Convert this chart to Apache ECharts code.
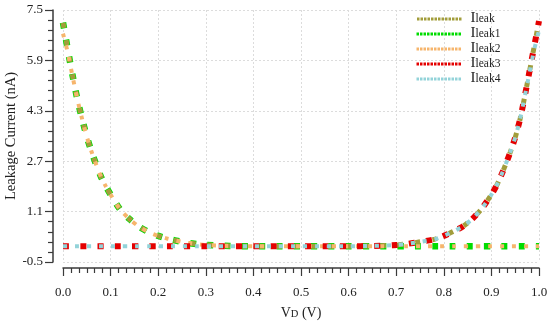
<!DOCTYPE html>
<html>
<head>
<meta charset="utf-8">
<script src="https://cdn.jsdelivr.net/npm/echarts@6/dist/echarts.min.js"></script>
<style>html,body{margin:0;padding:0;background:#fff;}#c{width:550px;height:322px;}</style>
</head>
<body>
<div id="c"></div>
<script>
// ---- data ----
var vd = [0, 0.01, 0.02, 0.03, 0.04, 0.05, 0.06, 0.07, 0.08, 0.09, 0.10, 0.12, 0.14, 0.16, 0.18, 0.20, 0.22, 0.25, 0.28, 0.30,
          0.35, 0.40, 0.45, 0.50, 0.55, 0.60, 0.65, 0.70,
          0.72, 0.75, 0.78, 0.80, 0.82, 0.84, 0.86, 0.88, 0.90,
          0.91, 0.92, 0.93, 0.94, 0.95, 0.96, 0.97, 0.98, 0.99, 1.00];
var ileak  = [7.10, 6.25, 5.43, 4.68, 4.05, 3.48, 3.00, 2.58, 2.20, 1.90, 1.64, 1.17, 0.86, 0.62, 0.45, 0.33, 0.24, 0.14, 0.07, 0.04,
              0.01, 0.00, 0.00, 0.00, 0.00, 0.00, 0.01, 0.04,
              0.07, 0.14, 0.22, 0.33, 0.47, 0.63, 0.87, 1.20, 1.64,
              1.90, 2.23, 2.60, 3.00, 3.45, 4.02, 4.75, 5.55, 6.35, 7.15];
var ileak1 = [7.10, 6.25, 5.43, 4.68, 4.05, 3.48, 3.00, 2.58, 2.20, 1.90, 1.64, 1.17, 0.86, 0.62, 0.45, 0.33, 0.24, 0.14, 0.07, 0.04,
              0.01, 0.00, 0.00, 0.00, 0.00, 0.00, 0.00, 0.00,
              0.00, 0.00, 0.00, 0.00, 0.00, 0.00, 0.00, 0.00, 0.00,
              0.00, 0.00, 0.00, 0.00, 0.00, 0.00, 0.00, 0.00, 0.00, 0.00];
var ileak2 = [6.75, 6.15, 5.40, 4.68, 4.05, 3.48, 3.00, 2.58, 2.20, 1.90, 1.64, 1.17, 0.86, 0.62, 0.45, 0.33, 0.24, 0.14, 0.07, 0.04,
              0.01, 0.00, 0.00, 0.00, 0.00, 0.00, 0.00, 0.00,
              0.00, 0.00, 0.00, 0.00, 0.00, 0.00, 0.00, 0.00, 0.00,
              0.00, 0.00, 0.00, 0.00, 0.00, 0.00, 0.00, 0.00, 0.00, 0.00];
var ileak3 = [0.00, 0.00, 0.00, 0.00, 0.00, 0.00, 0.00, 0.00, 0.00, 0.00, 0.00, 0.00, 0.00, 0.00, 0.00, 0.00, 0.00, 0.00, 0.00, 0.00,
              0.00, 0.00, 0.00, 0.00, 0.00, 0.00, 0.01, 0.04,
              0.07, 0.14, 0.22, 0.33, 0.47, 0.63, 0.87, 1.20, 1.64,
              1.90, 2.23, 2.60, 3.00, 3.45, 4.02, 4.75, 5.55, 6.35, 7.15];
var ileak4 = [0.00, 0.00, 0.00, 0.00, 0.00, 0.00, 0.00, 0.00, 0.00, 0.00, 0.00, 0.00, 0.00, 0.00, 0.00, 0.00, 0.00, 0.00, 0.00, 0.00,
              0.00, 0.00, 0.00, 0.00, 0.00, 0.00, 0.01, 0.04,
              0.07, 0.14, 0.22, 0.33, 0.47, 0.63, 0.87, 1.20, 1.64,
              1.90, 2.23, 2.60, 3.00, 3.45, 4.02, 4.75, 5.50, 6.25, 6.85];
var seriesNames = ['Ileak', 'Ileak1', 'Ileak2', 'Ileak3', 'Ileak4'];
var yTicks = [-0.5, 1.1, 2.7, 4.3, 5.9, 7.5];

// ---- chart ----
function pairs(ys) { return vd.map(function (x, i) { return [x, ys[i]]; }); }
var FONT = '"Liberation Serif", "Times New Roman", serif';
var styles = [
  { color: '#a29d3b', width: 5, dash: [5, 12.3], off: -0.5, z: 3 },
  { color: '#00dc00', width: 6.5, dash: [6, 11.3], off: 0, z: 2 },
  { color: '#f6b56c', width: 4, dash: [4, 8], off: 0, z: 4 },
  { color: '#e40000', width: 6, dash: [6, 11.3], off: 0, z: 5 },
  { color: '#93d3d9', width: 4, dash: [4, 8], off: 0, z: 6 }
];
var datas = [ileak, ileak1, ileak2, ileak3, ileak4];
var series = seriesNames.map(function (n, i) {
  var s = styles[i];
  return {
    name: n, type: 'line', data: pairs(datas[i]), symbol: 'none', showSymbol: false,
    smooth: 0.25, z: s.z,
    lineStyle: { color: s.color, width: s.width, type: s.dash, dashOffset: s.off, cap: 'butt', join: 'miter' },
    itemStyle: { color: s.color }
  };
});

var chart = echarts.init(document.getElementById('c'), null, { renderer: 'canvas' });
chart.setOption({
  animation: false,
  backgroundColor: '#fff',
  grid: { left: 63, right: 11, top: 10, bottom: 60, containLabel: false, outerBoundsMode: 'none' },
  legend: {
    orient: 'vertical', left: 410, top: 6,
    itemWidth: 45, itemHeight: 10, itemGap: 0,
    data: seriesNames,
    lineStyle: { width: 3, type: [2.5, 1], cap: 'butt' },
    itemStyle: { opacity: 0, color: 'rgba(0,0,0,0)', borderWidth: 0 },
    formatter: function (n) { return '{a|I}{b|' + n.slice(1) + '}'; },
    textStyle: {
      padding: [0, 0, 0, 4],
      rich: {
        a: { fontFamily: FONT, fontSize: 15, color: '#222', lineHeight: 14, verticalAlign: 'bottom' },
        b: { fontFamily: FONT, fontSize: 11.5, color: '#222', lineHeight: 14, verticalAlign: 'bottom', padding: [0, 0, 1, 0] }
      }
    }
  },
  xAxis: {
    type: 'value', min: 0, max: 1, interval: 0.1, offset: 6,
    name: '{a|V}{b|D}{a| (V)}', nameLocation: 'middle', nameGap: 36, nameMoveOverlap: false,
    nameTextStyle: {
      rich: {
        a: { fontFamily: FONT, fontSize: 14, color: '#222', verticalAlign: 'bottom', lineHeight: 16 },
        b: { fontFamily: FONT, fontSize: 10.5, color: '#222', verticalAlign: 'bottom', lineHeight: 16 }
      }
    },
    axisLine: { show: true, onZero: false, lineStyle: { color: '#3a3a3a', width: 1.5 } },
    axisTick: { show: true, inside: false, length: 8, lineStyle: { color: '#3a3a3a', width: 1.2 } },
    minorTick: { show: true, splitNumber: 6, length: 5, lineStyle: { color: '#3a3a3a', width: 1.2 } },
    axisLabel: { fontFamily: FONT, fontSize: 13, color: '#222', margin: 18,
      formatter: function (v) { return v.toFixed(1); } },
    splitLine: { show: true, lineStyle: { color: '#dcdcdc', type: [2, 2], width: 1 } }
  },
  yAxis: {
    type: 'value', min: yTicks[0], max: yTicks[yTicks.length - 1], interval: 1.6, offset: 10,
    name: 'Leakage Current (nA)', nameLocation: 'middle', nameGap: 34, nameMoveOverlap: false,
    nameTextStyle: { fontFamily: FONT, fontSize: 14.5, color: '#222' },
    axisLine: { show: true, onZero: false, lineStyle: { color: '#3a3a3a', width: 1.5 } },
    axisTick: { show: true, inside: false, length: 8, lineStyle: { color: '#3a3a3a', width: 1.2 } },
    minorTick: { show: true, splitNumber: 5, length: 5, lineStyle: { color: '#3a3a3a', width: 1.2 } },
    axisLabel: { fontFamily: FONT, fontSize: 13, color: '#222', margin: 10,
      formatter: function (v) { return (Math.round(v * 10) / 10).toFixed(1); } },
    splitLine: { show: true, lineStyle: { color: '#dcdcdc', type: [2, 2], width: 1 } }
  },
  series: series
});
</script>
</body>
</html>
